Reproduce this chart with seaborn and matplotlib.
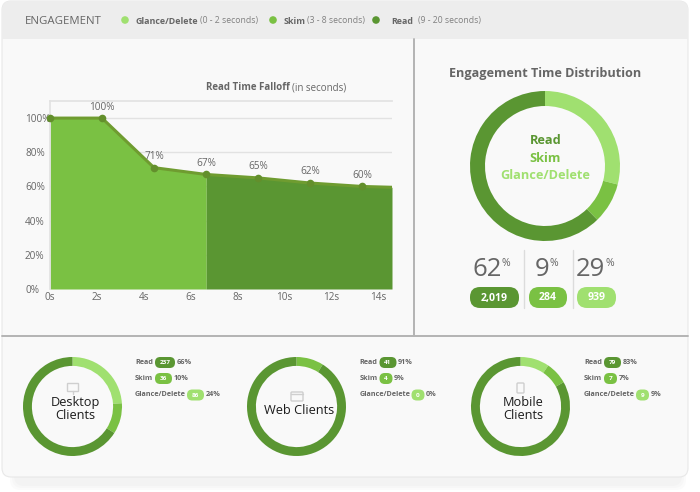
# -*- coding: utf-8 -*-
import matplotlib
matplotlib.use('Agg')
import matplotlib.pyplot as plt
import pandas as pd
import seaborn as sns
from matplotlib.patches import Circle, FancyBboxPatch, Rectangle

#region 1. Data
segments = ['Read', 'Skim', 'Glance/Delete']
seconds_ranges = ['(9 - 20 seconds)', '(3 - 8 seconds)', '(0 - 2 seconds)']

falloff_sec = [0, 2.22, 4.44, 6.67, 8.89, 11.11, 13.33]
falloff_pct = [100, 100, 71, 67, 65, 62, 60]
falloff_end_sec = 14.6
falloff_end_pct = 59.5
skim_end_sec = 6.67
tick_sec = [0, 2, 4, 6, 8, 10, 12, 14]
tick_pct = [0, 20, 40, 60, 80, 100]

total_counts = [2019, 284, 939]
total_pcts = [62, 9, 29]

client_names = ['Desktop\nClients', 'Web Clients', 'Mobile\nClients']
desktop_counts = [237, 36, 86]
desktop_pcts = [66, 10, 24]
web_counts = [41, 4, 0]
web_pcts = [91, 9, 0]
mobile_counts = [79, 7, 9]
mobile_pcts = [83, 7, 9]
#endregion

#region 2. Style
sns.set_theme(style='white')
plt.rcParams['font.family'] = ['Open Sans', 'DejaVu Sans']

READ = '#5a9632'
SKIM = '#7ac143'
GLANCE = '#a0e070'
colors = [READ, SKIM, GLANCE]
TEXT = '#666666'
W, H = 700, 492

fig = plt.figure(figsize=(7, 4.92), dpi=100, facecolor='white')
bg = fig.add_axes([0, 0, 1, 1], zorder=0)
bg.set_xlim(0, W)
bg.set_ylim(H, 0)
bg.axis('off')


def pill(x, y, w, h, color, label, size):
    bg.add_patch(FancyBboxPatch((x, y), w, h, boxstyle=f'round,pad=0,rounding_size={h * 0.48}',
                                fc=color, ec='none', zorder=5))
    bg.text(x + w / 2, y + h / 2 + 0.5, label, color='white', fontsize=size, fontweight='bold',
            ha='center', va='center', zorder=6)


def donut(cx, cy, r, width, counts):
    # pie goes clockwise from the top: glance, skim, read
    ax = fig.add_axes([(cx - r) / W, 1 - (cy + r) / H, 2 * r / W, 2 * r / H], zorder=2)
    ax.pie(counts[::-1], colors=colors[::-1], startangle=90, counterclock=False, radius=1,
           wedgeprops={'width': width, 'linewidth': 0})
    ax.set_xlim(-1, 1)
    ax.set_ylim(-1, 1)
    ax.patch.set_alpha(0)
#endregion

#region 3. Card and header
for grow in [6, 4, 2]:
    bg.add_patch(FancyBboxPatch((16 - grow, 440), 664 + 2 * grow, 44 + grow, boxstyle='round,pad=0,rounding_size=10',
                                fc='#000000', alpha=0.015, ec='none', zorder=1))
card = FancyBboxPatch((2, 1), 686, 476, boxstyle='round,pad=0,rounding_size=9',
                      fc='#f9f9f9', ec='#e8e8e8', lw=0.8, zorder=2)
bg.add_patch(card)
header = Rectangle((2, 1), 686, 38, fc='#ededed', ec='none', zorder=3)
bg.add_patch(header)
header.set_clip_path(card)
bg.plot([414, 414], [39, 336], color='#b4b4b4', lw=1.4, zorder=3)
bg.plot([2, 688], [336, 336], color='#b4b4b4', lw=1.4, zorder=3)

bg.text(25, 21, 'ENGAGEMENT', color='#666666', fontsize=8.2, va='center', zorder=6)
legend_dot_x = [376, 273, 125]
legend_name_x = [391, 284, 136]
legend_range_x = [418, 307, 200]
for i in range(3):
    bg.add_patch(Circle((legend_dot_x[i], 20), 3.8, fc=colors[i], ec='none', zorder=6))
    bg.text(legend_name_x[i], 21, segments[i], color=TEXT, fontsize=6.4, fontweight='bold', va='center', zorder=6)
    bg.text(legend_range_x[i], 21, seconds_ranges[i], color='#808080', fontsize=6.2, va='center', zorder=6)
#endregion

#region 4. Read time falloff
bg.text(206, 88, 'Read Time Falloff', color=TEXT, fontsize=7, fontweight='bold', va='center', zorder=6)
bg.text(292, 88, '(in seconds)', color=TEXT, fontsize=7, va='center', zorder=6)

ax = fig.add_axes([50 / W, 1 - 289 / H, 342 / W, 188 / H], zorder=1)
ax.patch.set_alpha(0)
df = pd.DataFrame({'sec': falloff_sec, 'pct': falloff_pct})
area_sec = falloff_sec + [falloff_end_sec]
area_pct = falloff_pct + [falloff_end_pct]
ax.fill_between(area_sec, area_pct, 0, where=[s <= skim_end_sec for s in area_sec], color=SKIM, lw=0, zorder=2)
ax.fill_between(area_sec, area_pct, 0, where=[s >= skim_end_sec for s in area_sec], color=READ, lw=0, zorder=2)
ax.plot(area_sec, area_pct, color='#6f9c30', lw=2.2, zorder=3)
sns.lineplot(data=df, x='sec', y='pct', ax=ax, color='#638f2c', linewidth=0, marker='o', markersize=5.5,
             markeredgewidth=0, clip_on=False, zorder=4, errorbar=None)
for s, p in zip(falloff_sec[1:], falloff_pct[1:]):
    ax.annotate(f'{p}%', (s, p), xytext=(0, 4), textcoords='offset points', ha='center', va='bottom',
                color=TEXT, fontsize=7.2, zorder=6)
ax.set_xlim(0, falloff_end_sec)
ax.set_ylim(0, 110)
ax.set_xticks(tick_sec)
ax.set_xticklabels([f'{s}s' for s in tick_sec], color=TEXT, fontsize=7.2)
ax.set_yticks(tick_pct)
ax.set_yticklabels([f'{p}%' for p in tick_pct], color=TEXT, fontsize=7.2, ha='left')
ax.tick_params(axis='y', length=0, pad=18)
ax.tick_params(axis='x', length=0, pad=2)
ax.set_xlabel('')
ax.set_ylabel('')
ax.grid(axis='y', color='#e2e2e2', lw=1, zorder=0)
ax.set_axisbelow(True)
sns.despine(ax=ax, right=True, bottom=True)
ax.spines['left'].set_color('#e2e2e2')
ax.spines['top'].set_color('#e2e2e2')
ax.spines['top'].set_visible(True)
ax.spines['bottom'].set_visible(False)
#endregion

#region 5. Engagement time distribution
bg.text(545.5, 73, 'Engagement Time Distribution', color=TEXT, fontsize=9.1, fontweight='bold',
        ha='center', va='center', zorder=6)
donut(545, 166, 75, 0.2, total_counts)
for i, y in enumerate([140.5, 158, 175.5]):
    bg.text(545.5, y, segments[i], color=colors[i], fontsize=9.2, fontweight='bold', ha='center', va='center', zorder=6)

big_x = [502, 549, 605]
pill_x = [470, 529, 577]
pill_w = [49, 38, 39]
for i in range(3):
    bg.text(big_x[i], 270, str(total_pcts[i]), color=TEXT, fontsize=18.5, ha='right', va='center', zorder=6)
    bg.text(big_x[i], 263.5, '%', color=TEXT, fontsize=7.5, ha='left', va='center', zorder=6)
    pill(pill_x[i], 287, pill_w[i], 21, colors[i], f'{total_counts[i]:,}', 7.6)
for x in [524, 572.5]:
    bg.plot([x, x], [250, 308], color='#dcdcdc', lw=1, zorder=3)
#endregion

#region 6. Client donuts
client_cx = [72.5, 296.5, 520.5]
client_legend_x = [135, 359.5, 584]
client_counts = [desktop_counts, web_counts, mobile_counts]
client_pcts = [desktop_pcts, web_pcts, mobile_pcts]
pill_offset = [20, 20, 52]
pill_width = {1: 13, 2: 17, 3: 20}

for cx, lx, name, counts, pcts in zip(client_cx, client_legend_x, client_names, client_counts, client_pcts):
    donut(cx, 406.5, 49.5, 0.18, counts)
    name_y = 410 if '\n' not in name else 409
    bg.text(cx + 2.5, name_y, name, color='#1c1c1c', fontsize=9.2, ha='center', va='center',
            linespacing=1.02, zorder=6)
    for i, y in enumerate([362.5, 378.5, 395]):
        bg.text(lx, y, segments[i], color=TEXT, fontsize=5.2, fontweight='bold', va='center', zorder=6)
        w = pill_width[len(str(counts[i]))]
        pill(lx + pill_offset[i], y - 5.5, w, 11, colors[i], str(counts[i]), 4.6)
        bg.text(lx + pill_offset[i] + w + 1.5, y, f'{pcts[i]}%', color=TEXT, fontsize=5.2, fontweight='bold',
                va='center', zorder=6)

# small icons above the client names
icon = {'fc': 'none', 'ec': '#cfcfcf', 'lw': 1, 'zorder': 6}
bg.add_patch(Rectangle((67, 383), 11, 8, **icon))
bg.plot([72.5, 72.5], [391, 394], color='#cfcfcf', lw=1, zorder=6)
bg.add_patch(FancyBboxPatch((291, 392), 12, 9, boxstyle='round,pad=0,rounding_size=1', **icon))
bg.plot([291, 303], [394, 394], color='#cfcfcf', lw=1, zorder=6)
bg.add_patch(FancyBboxPatch((517, 383), 7, 10, boxstyle='round,pad=0,rounding_size=1', **icon))
#endregion

fig.savefig('out.png', dpi=100, facecolor='white')
